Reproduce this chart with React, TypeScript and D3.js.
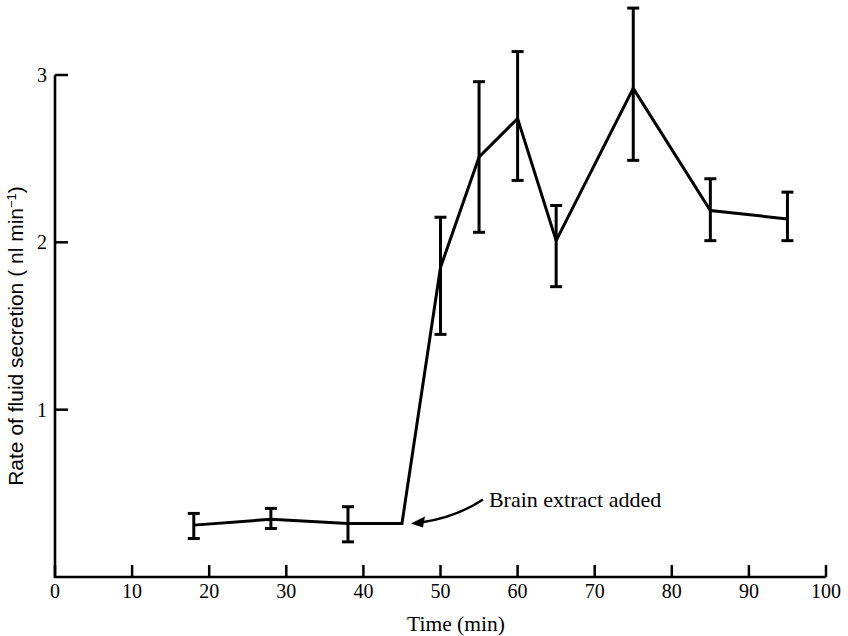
import React, { useEffect, useRef } from "react";
import * as d3 from "d3";

const times = [18, 28, 38, 45, 50, 55, 60, 65, 75, 85, 95];
const means = [0.31, 0.345, 0.32, 0.32, 1.85, 2.51, 2.74, 2.01, 2.92, 2.19, 2.14];
const upper = [0.38, 0.41, 0.42, null, 2.15, 2.96, 3.14, 2.22, 3.4, 2.38, 2.3];
const lower = [0.23, 0.29, 0.21, null, 1.45, 2.06, 2.37, 1.735, 2.49, 2.01, 2.01];
const xTicks = [0, 10, 20, 30, 40, 50, 60, 70, 80, 90, 100];
const yTicks = [1, 2, 3];
const annotation = "Brain extract added";
const annotationAt = 45;

export default function App() {
  const ref = useRef<SVGSVGElement>(null);
  useEffect(() => {
    const svg = d3.select(ref.current);
    svg.selectAll("*").remove();
    const x = d3.scaleLinear().domain([0, 100]).range([55, 826]);
    const y = d3.scaleLinear().domain([0, 3]).range([577, 75]);
    const font = "'Liberation Serif', 'Times New Roman', serif";
    const sans = "'Liberation Sans', Arial, sans-serif";

    // axes
    svg.append("path")
      .attr("d", `M${x(0)},${y(3)}V${y(0)}H${x(100)}`)
      .attr("fill", "none").attr("stroke", "#000").attr("stroke-width", 2.6);
    svg.selectAll(".xt").data(xTicks).enter().append("line")
      .attr("x1", d => x(d)).attr("x2", d => x(d))
      .attr("y1", y(0)).attr("y2", y(0) - 12)
      .attr("stroke", "#000").attr("stroke-width", 2.5);
    svg.selectAll(".xl").data(xTicks).enter().append("text")
      .attr("x", d => x(d)).attr("y", y(0) + 21)
      .attr("text-anchor", "middle").attr("font-family", font).attr("font-size", 20)
      .text(d => String(d));
    svg.selectAll(".yt").data(yTicks).enter().append("line")
      .attr("x1", x(0)).attr("x2", x(0) + 13)
      .attr("y1", d => y(d)).attr("y2", d => y(d))
      .attr("stroke", "#000").attr("stroke-width", 2.5);
    svg.selectAll(".yl").data(yTicks).enter().append("text")
      .attr("x", x(0) - 8).attr("y", d => y(d) + 7)
      .attr("text-anchor", "end").attr("font-family", font).attr("font-size", 20)
      .text(d => String(d));

    // axis titles
    svg.append("text")
      .attr("x", 456).attr("y", 631)
      .attr("text-anchor", "middle").attr("font-family", font).attr("font-size", 21.5)
      .text("Time (min)");
    const yt = svg.append("text")
      .attr("transform", `translate(23,336) rotate(-90)`)
      .attr("text-anchor", "middle").attr("font-family", sans).attr("font-size", 21);
    yt.append("tspan").text("Rate of fluid secretion  ( nl min");
    yt.append("tspan").attr("baseline-shift", "super").attr("font-size", 13).text("\u2212");
    yt.append("tspan").attr("baseline-shift", "super").attr("font-size", 13).text("1");
    yt.append("tspan").text(")");

    // line
    const pts = times.map((t, i) => [t, means[i]] as [number, number]);
    svg.append("path")
      .attr("d", d3.line<[number, number]>().x(d => x(d[0])).y(d => y(d[1]))(pts) || "")
      .attr("fill", "none").attr("stroke", "#000").attr("stroke-width", 3)
      .attr("stroke-linejoin", "miter");

    // error bars
    const eb = times.map((t, i) => ({ t, u: upper[i], l: lower[i] })).filter(d => d.u != null);
    const g = svg.append("g").attr("stroke", "#000").attr("stroke-width", 3);
    g.selectAll(".v").data(eb).enter().append("line")
      .attr("x1", d => x(d.t)).attr("x2", d => x(d.t))
      .attr("y1", d => y(d.u as number)).attr("y2", d => y(d.l as number));
    g.selectAll(".c1").data(eb).enter().append("line")
      .attr("x1", d => x(d.t) - 6).attr("x2", d => x(d.t) + 6)
      .attr("y1", d => y(d.u as number)).attr("y2", d => y(d.u as number));
    g.selectAll(".c2").data(eb).enter().append("line")
      .attr("x1", d => x(d.t) - 6).attr("x2", d => x(d.t) + 6)
      .attr("y1", d => y(d.l as number)).attr("y2", d => y(d.l as number));

    // annotation arrow
    const ai = times.indexOf(annotationAt);
    const tx = x(annotationAt) + 9;
    const ty = y(means[ai]);
    svg.append("path")
      .attr("d", `M${tx + 72},${ty - 24} Q${tx + 45},${ty - 6} ${tx + 10},${ty - 1}`)
      .attr("fill", "none").attr("stroke", "#000").attr("stroke-width", 2.4);
    svg.append("path")
      .attr("d", `M${tx},${ty} L${tx + 14},${ty - 7} L${tx + 12},${ty + 4} Z`)
      .attr("fill", "#000");
    svg.append("text")
      .attr("x", tx + 78).attr("y", ty - 16)
      .attr("font-family", font).attr("font-size", 22)
      .text(annotation);
  }, []);
  return (
    <svg ref={ref} width={848} height={636}
      style={{ position: "absolute", left: 0, top: 0, background: "#fff" }} />
  );
}
